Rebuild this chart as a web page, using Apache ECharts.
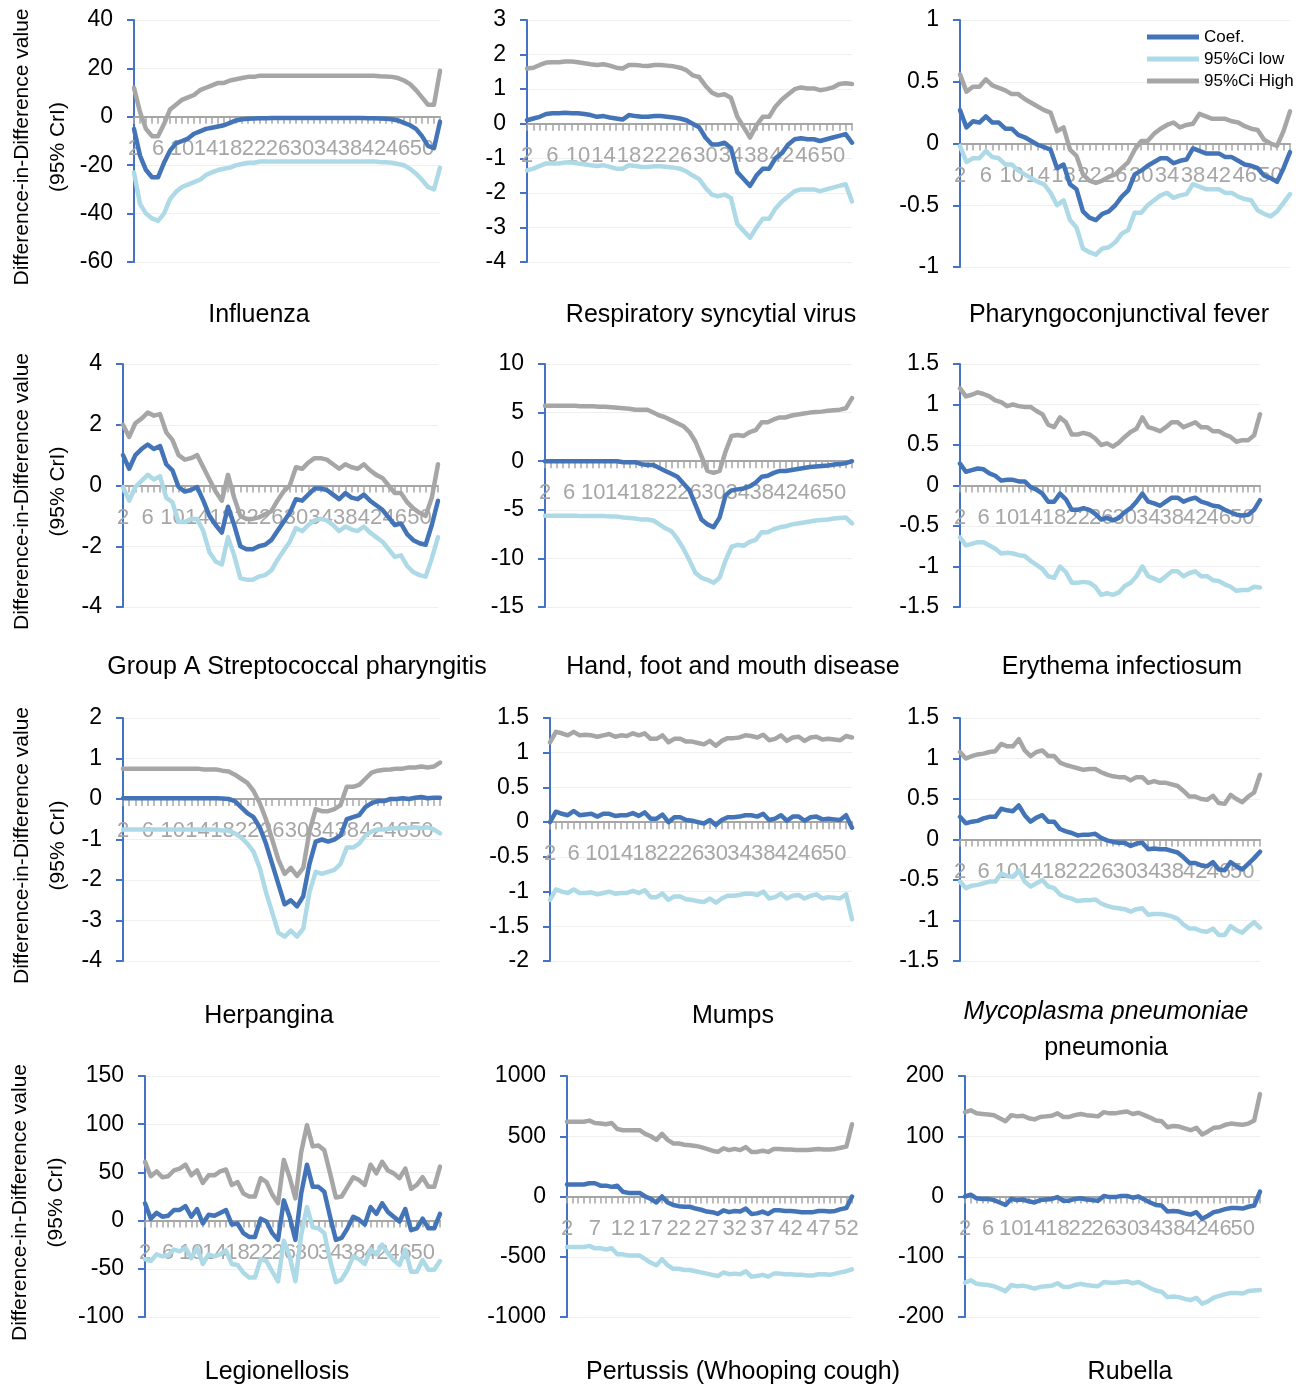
<!DOCTYPE html>
<html>
<head>
<meta charset="utf-8">
<script src="https://cdn.jsdelivr.net/npm/echarts@6/dist/echarts.min.js"></script>
<style>
html, body { margin: 0; padding: 0; background: #fff; }
#main { width: 1314px; height: 1387px; }
</style>
</head>
<body>
<div id="main"></div>
<script>
// week numbers on the x axis
const weeks = ['2','3','4','5','6','7','8','9','10','11','12','13','14','15','16','17','18','19','20','21',
  '22','23','24','25','26','27','28','29','30','31','32','33','34','35','36','37','38','39','40','41',
  '42','43','44','45','46','47','48','49','50','51','52','53'];

const seriesNames = ['Coef.', '95%Ci low', '95%Ci High'];

// Influenza
const fluCoef = [-5,-16,-22,-25,-25,-19,-14,-11,-10,-9, -7,-6,-5,-4.5,-4,-3.5,-2.5,-1.5,-1,-0.8,
  -0.7,-0.6,-0.6,-0.5,-0.5,-0.5,-0.5,-0.5,-0.5,-0.5, -0.5,-0.5,-0.5,-0.5,-0.5,-0.5,-0.5,-0.5,-0.5,-0.6,
  -0.6,-0.7,-0.8,-1,-1.5,-2.5,-3.5,-5,-8,-12, -13,-2];
const fluLow = [-23,-36,-40,-42,-43,-40,-34,-31,-29,-28, -27,-26,-24,-23,-22,-21.5,-21,-20,-19.5,-19,
  -19,-18.5,-18.5,-18.5,-18.5,-18.5,-18.5,-18.5,-18.5,-18.5, -18.5,-18.5,-18.5,-18.5,-18.5,-18.5,-18.5,-18.5,-18.5,-18.5,
  -18.5,-18.7,-18.8,-19,-19.5,-20,-21.5,-23.5,-26,-29, -30,-21];
const fluHigh = [12,2,-5,-8,-8,-3,3,5,7,8, 9,11,12,13,14,14,15,15.5,16,16.5,
  16.5,17,17,17,17,17,17,17,17,17, 17,17,17,17,17,17,17,17,17,17,
  17,16.8,16.7,16.5,16,15,13.5,11,8,5, 5,19];

// Respiratory syncytial virus
const rsvCoef = [0.1,0.15,0.2,0.28,0.3,0.3,0.32,0.3,0.3,0.28, 0.25,0.2,0.22,0.18,0.15,0.12,0.25,0.22,0.2,0.2,
  0.22,0.22,0.2,0.18,0.15,0.1,0,-0.1,-0.4,-0.6, -0.6,-0.55,-0.7,-1.4,-1.6,-1.8,-1.5,-1.3,-1.3,-1,
  -0.85,-0.6,-0.45,-0.42,-0.45,-0.45,-0.5,-0.45,-0.4,-0.35, -0.3,-0.55];
const rsvLow = [-1.35,-1.3,-1.22,-1.15,-1.15,-1.15,-1.12,-1.12,-1.15,-1.17, -1.2,-1.22,-1.2,-1.25,-1.3,-1.3,-1.2,-1.22,-1.25,-1.25,
  -1.23,-1.23,-1.25,-1.27,-1.3,-1.38,-1.5,-1.6,-1.85,-2.05, -2.1,-2.05,-2.15,-2.9,-3.1,-3.3,-3,-2.75,-2.75,-2.45,
  -2.25,-2.1,-1.95,-1.9,-1.9,-1.9,-1.95,-1.9,-1.85,-1.8, -1.75,-2.25];
const rsvHigh = [1.6,1.62,1.7,1.77,1.78,1.78,1.8,1.8,1.78,1.75, 1.72,1.7,1.72,1.68,1.62,1.6,1.7,1.7,1.68,1.67,
  1.7,1.7,1.68,1.66,1.62,1.55,1.4,1.35,1.1,0.9, 0.82,0.85,0.75,0.2,-0.1,-0.4,-0.05,0.2,0.2,0.5,
  0.7,0.85,1,1.05,1.02,1.02,0.97,1,1.05,1.15, 1.17,1.15];

// Pharyngoconjunctival fever
const pcfCoef = [0.27,0.13,0.18,0.17,0.22,0.17,0.17,0.12,0.12,0.07, 0.05,0.02,-0.01,-0.03,-0.05,-0.2,-0.17,-0.33,-0.37,-0.55,
  -0.6,-0.62,-0.57,-0.55,-0.5,-0.43,-0.38,-0.25,-0.22,-0.18, -0.15,-0.12,-0.12,-0.16,-0.14,-0.13,-0.04,-0.06,-0.08,-0.08,
  -0.08,-0.11,-0.11,-0.14,-0.17,-0.18,-0.2,-0.26,-0.28,-0.31, -0.2,-0.07];
const pcfLow = [-0.02,-0.15,-0.12,-0.12,-0.06,-0.11,-0.12,-0.17,-0.17,-0.22, -0.25,-0.28,-0.31,-0.33,-0.4,-0.5,-0.46,-0.62,-0.68,-0.85,
  -0.88,-0.9,-0.85,-0.84,-0.8,-0.73,-0.7,-0.56,-0.56,-0.5, -0.46,-0.42,-0.4,-0.44,-0.42,-0.41,-0.33,-0.35,-0.37,-0.37,
  -0.37,-0.4,-0.4,-0.43,-0.45,-0.46,-0.54,-0.57,-0.59,-0.55, -0.48,-0.41];
const pcfHigh = [0.56,0.42,0.46,0.46,0.52,0.47,0.45,0.43,0.4,0.4, 0.36,0.33,0.3,0.27,0.25,0.1,0.13,-0.05,-0.1,-0.25,
  -0.3,-0.32,-0.3,-0.27,-0.25,-0.2,-0.15,-0.05,0.02,0.02, 0.08,0.12,0.15,0.17,0.13,0.15,0.16,0.24,0.22,0.2,
  0.2,0.2,0.18,0.17,0.14,0.12,0.11,0.03,0,-0.02, 0.1,0.26];

// Group A Streptococcal pharyngitis
const gasCoef = [1,0.55,1,1.2,1.35,1.2,1.3,0.7,0.5,-0.05, -0.2,-0.15,-0.05,-0.5,-1,-1.3,-1.55,-0.7,-1.3,-2,
  -2.1,-2.1,-2,-1.95,-1.8,-1.5,-1.2,-0.9,-0.45,-0.5, -0.3,-0.1,-0.1,-0.15,-0.3,-0.45,-0.25,-0.4,-0.45,-0.3,
  -0.5,-0.65,-0.8,-1.05,-1.3,-1.25,-1.6,-1.8,-1.9,-1.95, -1.3,-0.5];
const gasLow = [-0.05,-0.5,-0.05,0.15,0.35,0.2,0.3,-0.4,-0.55,-1.2, -1.2,-1.1,-1.1,-1.5,-2.2,-2.5,-2.6,-1.7,-2.3,-3.05,
  -3.1,-3.1,-3,-2.95,-2.8,-2.45,-2.15,-1.85,-1.4,-1.5, -1.3,-1.15,-1.1,-1.15,-1.3,-1.5,-1.35,-1.45,-1.5,-1.35,
  -1.55,-1.7,-1.85,-2.1,-2.35,-2.3,-2.65,-2.85,-2.95,-3, -2.4,-1.7];
const gasHigh = [2,1.6,2.05,2.2,2.4,2.3,2.35,1.75,1.5,1, 0.85,0.9,1,0.6,0.2,-0.2,-0.5,0.35,-0.4,-1,
  -1.1,-1.1,-1.05,-0.95,-0.85,-0.5,-0.2,0,0.6,0.55, 0.75,0.9,0.9,0.85,0.7,0.55,0.7,0.6,0.55,0.7,
  0.5,0.35,0.25,0,-0.25,-0.25,-0.55,-0.75,-0.9,-1, -0.4,0.7];

// Hand, foot and mouth disease
const hfmdCoef = [0,0,0,0,0,0,0,0,0,0, 0,0,0,-0.1,-0.1,-0.1,-0.3,-0.4,-0.4,-0.7,
  -1,-1.3,-1.6,-2.3,-3,-4.5,-6,-6.5,-6.8,-5.8, -3.5,-3,-2.9,-2.8,-2.6,-2.2,-1.6,-1.5,-1.2,-1,
  -1,-0.9,-0.8,-0.7,-0.6,-0.55,-0.5,-0.45,-0.35,-0.3, -0.2,0];
const hfmdLow = [-5.6,-5.6,-5.6,-5.6,-5.6,-5.6,-5.65,-5.65,-5.65,-5.65, -5.65,-5.7,-5.7,-5.8,-5.85,-5.9,-6,-6,-6.1,-6.5,
  -6.9,-7.2,-8,-9,-10.2,-11.5,-12,-12.2,-12.5,-12, -10.2,-8.8,-8.6,-8.7,-8.3,-8.1,-7.3,-7.3,-7,-6.8,
  -6.7,-6.5,-6.4,-6.3,-6.2,-6.1,-6.05,-6,-5.9,-5.85, -5.8,-6.4];
const hfmdHigh = [5.7,5.7,5.7,5.7,5.7,5.7,5.65,5.65,5.65,5.6, 5.6,5.55,5.5,5.45,5.4,5.3,5.3,5.3,5,4.7,
  4.5,4.2,3.9,3.6,3,2,0.5,-1,-1.2,-1, 1,2.6,2.7,2.6,3,3.2,4,4,4.3,4.5,
  4.5,4.7,4.8,4.9,5,5.05,5.1,5.2,5.25,5.3, 5.45,6.5];

// Erythema infectiosum
const eryCoef = [0.27,0.17,0.19,0.21,0.2,0.15,0.12,0.06,0.07,0.07, 0.05,0.05,-0.02,-0.05,-0.1,-0.2,-0.2,-0.1,-0.17,-0.3,
  -0.3,-0.28,-0.3,-0.35,-0.42,-0.4,-0.43,-0.4,-0.33,-0.28, -0.2,-0.1,-0.2,-0.22,-0.25,-0.2,-0.15,-0.15,-0.2,-0.17,
  -0.15,-0.2,-0.22,-0.25,-0.26,-0.3,-0.33,-0.36,-0.37,-0.36, -0.3,-0.18];
const eryLow = [-0.64,-0.74,-0.72,-0.7,-0.7,-0.74,-0.78,-0.84,-0.83,-0.84, -0.86,-0.87,-0.93,-0.98,-1.03,-1.12,-1.14,-1,-1.07,-1.2,
  -1.2,-1.19,-1.2,-1.25,-1.35,-1.33,-1.35,-1.32,-1.24,-1.2, -1.12,-1,-1.12,-1.15,-1.18,-1.12,-1.06,-1.06,-1.12,-1.08,
  -1.06,-1.12,-1.12,-1.17,-1.18,-1.22,-1.25,-1.3,-1.29,-1.29, -1.25,-1.26];
const eryHigh = [1.2,1.1,1.12,1.15,1.13,1.1,1.05,1.03,0.98,1, 0.98,0.97,0.97,0.92,0.88,0.75,0.72,0.84,0.78,0.63,
  0.63,0.65,0.63,0.58,0.5,0.52,0.48,0.53,0.6,0.66, 0.7,0.84,0.72,0.7,0.67,0.72,0.78,0.78,0.72,0.75,
  0.78,0.72,0.72,0.67,0.67,0.63,0.6,0.54,0.56,0.56, 0.62,0.88];

// Herpangina
const herpCoef = [0.02,0.02,0.02,0.02,0.02,0.02,0.02,0.02,0.02,0.02, 0.02,0.02,0.02,0.02,0.02,0.02,0.01,0,-0.05,-0.2,
  -0.35,-0.45,-0.7,-1.1,-1.6,-2.1,-2.6,-2.5,-2.65,-2.4, -1.6,-1.05,-1,-1.05,-1,-0.9,-0.5,-0.45,-0.4,-0.2,
  -0.1,-0.05,-0.05,0,0,0.02,0,0.03,0.05,0.02, 0.03,0.03];
const herpLow = [-0.75,-0.75,-0.75,-0.75,-0.75,-0.75,-0.75,-0.75,-0.75,-0.75, -0.75,-0.75,-0.75,-0.75,-0.75,-0.76,-0.78,-0.78,-0.85,-0.95,
  -1.1,-1.3,-1.7,-2.3,-2.8,-3.3,-3.4,-3.25,-3.4,-3.2, -2.3,-1.8,-1.85,-1.8,-1.75,-1.6,-1.2,-1.2,-1.1,-0.9,
  -0.8,-0.75,-0.75,-0.73,-0.72,-0.72,-0.71,-0.7,-0.72,-0.7, -0.75,-0.85];
const herpHigh = [0.75,0.75,0.75,0.75,0.75,0.75,0.75,0.75,0.75,0.75, 0.75,0.75,0.75,0.73,0.73,0.73,0.7,0.68,0.6,0.5,
  0.4,0.2,-0.1,-0.5,-1,-1.5,-1.85,-1.7,-1.9,-1.7, -0.8,-0.25,-0.3,-0.3,-0.25,-0.15,0.3,0.3,0.35,0.5,
  0.65,0.7,0.72,0.73,0.75,0.75,0.78,0.78,0.8,0.78, 0.8,0.9];

// Mumps
const mumpsCoef = [0,0.15,0.12,0.1,0.16,0.1,0.11,0.12,0.08,0.12, 0.12,0.09,0.1,0.1,0.13,0.09,0.14,0.05,0.05,0.11,
  0,0.07,0.07,0.03,0.02,0,-0.02,0.03,-0.04,0.03, 0.07,0.07,0.08,0.1,0.1,0.08,0.12,0.03,0.05,0.1,
  0.02,0.08,0.08,0.02,0.07,0.08,0.04,0.05,0.04,0.03, 0.1,-0.08];
const mumpsLow = [-1.12,-0.97,-1,-1.02,-0.97,-1.02,-1.02,-1.01,-1.04,-1.02, -1,-1.03,-1.02,-1.02,-0.99,-1.02,-0.98,-1.08,-1.08,-1.03,
  -1.12,-1.07,-1.07,-1.11,-1.12,-1.14,-1.15,-1.1,-1.16,-1.1, -1.06,-1.06,-1.05,-1.03,-1.03,-1.05,-1,-1.1,-1.08,-1.03,
  -1.1,-1.06,-1.05,-1.1,-1.06,-1.04,-1.1,-1.08,-1.09,-1.1, -1.04,-1.4];
const mumpsHigh = [1.15,1.3,1.28,1.25,1.3,1.25,1.26,1.25,1.23,1.25, 1.27,1.23,1.25,1.24,1.28,1.25,1.28,1.2,1.2,1.25,
  1.15,1.2,1.2,1.16,1.16,1.14,1.12,1.17,1.1,1.17, 1.21,1.21,1.22,1.25,1.24,1.22,1.26,1.18,1.2,1.25,
  1.17,1.22,1.23,1.17,1.22,1.23,1.19,1.2,1.19,1.18, 1.24,1.22];

// Mycoplasma pneumoniae pneumonia
const mycoCoef = [0.28,0.2,0.22,0.23,0.26,0.28,0.28,0.38,0.36,0.35, 0.42,0.3,0.22,0.27,0.3,0.22,0.22,0.13,0.1,0.08,
  0.05,0.06,0.06,0.07,0.02,-0.01,-0.03,-0.04,-0.04,-0.08, -0.05,-0.04,-0.12,-0.11,-0.12,-0.12,-0.14,-0.16,-0.22,-0.29,
  -0.29,-0.32,-0.33,-0.28,-0.37,-0.38,-0.28,-0.33,-0.37,-0.3, -0.23,-0.15];
const mycoLow = [-0.52,-0.6,-0.57,-0.56,-0.54,-0.52,-0.52,-0.42,-0.45,-0.46, -0.38,-0.52,-0.58,-0.54,-0.5,-0.58,-0.6,-0.68,-0.71,-0.73,
  -0.76,-0.75,-0.75,-0.74,-0.79,-0.82,-0.84,-0.85,-0.86,-0.89, -0.86,-0.85,-0.93,-0.92,-0.92,-0.93,-0.95,-0.98,-1.05,-1.1,
  -1.1,-1.13,-1.14,-1.1,-1.18,-1.18,-1.07,-1.12,-1.15,-1.08, -1.02,-1.09];
const mycoHigh = [1.08,1,1.03,1.05,1.06,1.08,1.09,1.18,1.15,1.15, 1.24,1.1,1.03,1.08,1.1,1.03,1.03,0.95,0.92,0.9,
  0.88,0.86,0.87,0.87,0.83,0.8,0.78,0.77,0.77,0.73, 0.77,0.77,0.7,0.72,0.7,0.7,0.68,0.66,0.6,0.53,
  0.53,0.5,0.49,0.54,0.45,0.44,0.55,0.5,0.46,0.53, 0.58,0.8];

// Legionellosis
const legCoef = [18,2,8,4,5,11,11,15,4,12, -3,6,5,8,11,-4,-3,-13,-17,-17,
  2,-1,-13,-20,21,4,-20,28,58,35, 35,30,4,-20,-18,-8,4,1,-4,14,
  7,18,9,4,-1,12,-10,-8,2,-8, -8,7];
const legLow = [-40,-42,-35,-37,-36,-30,-32,-28,-39,-28, -45,-35,-37,-35,-31,-45,-46,-54,-59,-59,
  -40,-42,-53,-63,-21,-37,-63,-15,14,-7, -8,-13,-41,-64,-61,-51,-37,-40,-45,-30,
  -35,-25,-34,-41,-46,-30,-53,-53,-41,-51, -51,-42];
const legHigh = [61,46,51,45,46,52,54,58,47,52, 39,47,47,51,53,37,40,28,25,25,
  44,40,27,18,63,45,23,71,99,77, 78,73,49,24,25,35,45,42,37,58,
  49,61,52,49,44,54,33,37,45,35, 35,56];

// Pertussis (Whooping cough)
const pertCoef = [100,100,100,100,110,110,90,90,80,90, 40,30,30,30,0,-20,-50,0,-50,-70,
  -80,-85,-85,-100,-110,-125,-130,-145,-115,-130, -120,-125,-100,-145,-140,-125,-145,-115,-115,-120,
  -120,-125,-130,-130,-130,-120,-120,-125,-120,-105, -95,0];
const pertLow = [-420,-420,-420,-420,-410,-430,-430,-440,-430,-480, -480,-490,-490,-490,-520,-550,-570,-520,-570,-600,
  -600,-610,-610,-620,-630,-640,-650,-660,-630,-645, -640,-645,-620,-665,-660,-650,-665,-640,-640,-645,
  -645,-650,-650,-655,-655,-645,-645,-650,-640,-630, -620,-605];
const pertHigh = [620,620,620,620,630,610,605,600,610,560, 550,550,550,550,520,500,470,520,470,440,
  440,430,425,420,410,395,380,370,400,385, 395,385,410,370,370,380,370,395,395,390,
  390,385,385,385,390,395,390,390,395,405, 415,600];

// Rubella
const rubCoef = [0,3,-3,-4,-4,-6,-10,-14,-4,-6, -5,-8,-10,-6,-5,-4,-1,-7,-7,-4,
  -3,-5,-6,-7,1,-1,-1,1,1,-2, 0,-5,-10,-14,-15,-25,-24,-25,-28,-30,
  -26,-37,-32,-26,-24,-21,-19,-19,-20,-17, -15,8];
const rubLow = [-143,-139,-145,-146,-147,-149,-153,-157,-147,-149, -148,-150,-153,-150,-149,-148,-144,-150,-150,-147,
  -145,-147,-148,-149,-142,-143,-143,-142,-141,-144, -142,-147,-152,-156,-158,-167,-166,-167,-170,-172,
  -168,-178,-174,-168,-165,-162,-160,-160,-161,-157, -156,-155];
const rubHigh = [140,143,138,137,136,135,130,125,135,133, 134,130,128,132,133,134,138,132,132,135,
  137,135,134,133,140,138,138,140,141,137, 139,135,131,126,125,115,117,116,113,110,
  114,103,108,114,115,119,121,120,119,121, 126,170];

const FONT = "'Liberation Sans Narrow', 'Arial Narrow', 'Liberation Sans', sans-serif";
const COLORS = ['#4374B7', '#ADDAE6', '#A6A6A6'];
const YNAME = 'Difference-in-Difference value\n(95% CrI)';

// layout of the 12 small charts
const panels = [
  { title: 'Influenza', data: [fluCoef, fluLow, fluHigh], min: -60, max: 40, step: 20, box: [134, 20, 306, 242], tx: 259, ty: 297, every: 4, gap: 58 },
  { title: 'Respiratory syncytial virus', data: [rsvCoef, rsvLow, rsvHigh], min: -4, max: 3, step: 1, box: [527, 20, 325, 242], tx: 711, ty: 297, every: 4 },
  { title: 'Pharyngoconjunctival fever', data: [pcfCoef, pcfLow, pcfHigh], min: -1, max: 1, step: 0.5, box: [960, 20, 330, 247], tx: 1119, ty: 297, every: 4 },
  { title: 'Group A Streptococcal pharyngitis', data: [gasCoef, gasLow, gasHigh], min: -4, max: 4, step: 2, box: [123, 364, 315, 243], tx: 297, ty: 649, every: 4, gap: 47 },
  { title: 'Hand, foot and mouth disease', data: [hfmdCoef, hfmdLow, hfmdHigh], min: -15, max: 10, step: 5, box: [545, 364, 307, 243], tx: 733, ty: 649, every: 4 },
  { title: 'Erythema infectiosum', data: [eryCoef, eryLow, eryHigh], min: -1.5, max: 1.5, step: 0.5, box: [960, 364, 300, 243], tx: 1122, ty: 649, every: 4 },
  { title: 'Herpangina', data: [herpCoef, herpLow, herpHigh], min: -4, max: 2, step: 1, box: [123, 718, 317, 243], tx: 269, ty: 998, every: 4, gap: 47 },
  { title: 'Mumps', data: [mumpsCoef, mumpsLow, mumpsHigh], min: -2, max: 1.5, step: 0.5, box: [550, 718, 302, 243], tx: 733, ty: 998, every: 4 },
  { title: '{i|Mycoplasma pneumoniae}\n{n|pneumonia}', data: [mycoCoef, mycoLow, mycoHigh], min: -1.5, max: 1.5, step: 0.5, box: [960, 718, 300, 243], tx: 1106, ty: 994, every: 4 },
  { title: 'Legionellosis', data: [legCoef, legLow, legHigh], min: -100, max: 150, step: 50, box: [145, 1076, 295, 241], tx: 277, ty: 1354, every: 4, gap: 69 },
  { title: 'Pertussis (Whooping cough)', data: [pertCoef, pertLow, pertHigh], min: -1000, max: 1000, step: 500, box: [567, 1076, 285, 241], tx: 743, ty: 1354, every: 5 },
  { title: 'Rubella', data: [rubCoef, rubLow, rubHigh], min: -200, max: 200, step: 100, box: [965, 1076, 295, 241], tx: 1130, ty: 1354, every: 4 }
];

const chart = echarts.init(document.getElementById('main'));

const series = [];
panels.forEach((p, i) => {
  p.data.forEach((vals, k) => {
    series.push({
      name: seriesNames[k],
      type: 'line',
      xAxisIndex: i,
      yAxisIndex: i,
      data: vals,
      symbol: 'none',
      color: COLORS[k],
      lineStyle: { color: COLORS[k], width: 4.5, cap: 'round', join: 'round' }
    });
  });
});

const option = {
  animation: false,
  backgroundColor: '#fff',
  textStyle: { fontFamily: FONT },
  title: panels.map(p => ({
    text: p.title,
    left: p.tx,
    top: p.ty,
    textAlign: 'center',
    padding: 0,
    textStyle: {
      fontFamily: FONT, fontSize: 25, fontWeight: 'normal', color: '#000', lineHeight: 36,
      rich: {
        i: { fontFamily: FONT, fontSize: 25, fontStyle: 'italic', color: '#000', lineHeight: 36 },
        n: { fontFamily: FONT, fontSize: 25, color: '#000', lineHeight: 36 }
      }
    }
  })),
  legend: {
    data: seriesNames,
    orient: 'vertical',
    left: 1147,
    top: 26,
    icon: 'rect',
    itemWidth: 52,
    itemHeight: 5,
    itemGap: 0,
    padding: 0,
    selectedMode: false,
    textStyle: { fontFamily: "'Liberation Sans', sans-serif", fontSize: 17, lineHeight: 22, color: '#000' }
  },
  grid: panels.map(p => ({
    left: p.box[0], top: p.box[1], width: p.box[2], height: p.box[3],
    outerBoundsMode: 'none'
  })),
  xAxis: panels.map((p, i) => {
    // the labels sit just under the zero line, not under the plot
    const zeroY = p.box[1] + p.box[3] * p.max / (p.max - p.min);
    const bottom = p.box[1] + p.box[3];
    return {
      gridIndex: i,
      type: 'category',
      data: weeks,
      boundaryGap: false,
      axisLine: { onZero: true, lineStyle: { color: '#A6A6A6', width: 2 } },
      axisTick: { show: true, interval: 0, length: 7, lineStyle: { color: '#A6A6A6', width: 1.5 } },
      axisLabel: {
        interval: 0,
        color: '#A6A6A6',
        fontSize: 22,
        margin: Math.round(zeroY + 21 - bottom),
        fontFamily: FONT,
        formatter: (v, idx) => (idx % p.every === 0 ? v : '')
      },
      splitLine: { show: false }
    };
  }),
  yAxis: panels.map((p, i) => ({
    gridIndex: i,
    type: 'value',
    min: p.min,
    max: p.max,
    interval: p.step,
    name: p.gap ? YNAME : '',
    nameLocation: 'middle',
    nameRotate: 90,
    nameGap: p.gap || 0,
    nameTextStyle: { fontFamily: FONT, fontSize: 21, lineHeight: 36, color: '#000', padding: [0, 12, 0, 0] },
    axisLine: { show: true, lineStyle: { color: '#4472C4', width: 2 } },
    axisTick: { show: true, length: 7, lineStyle: { color: '#4472C4', width: 2 } },
    axisLabel: { color: '#000', fontSize: 23, margin: 21, fontFamily: FONT, formatter: v => String(v) },
    splitLine: { show: true, lineStyle: { color: '#EFEFEF', width: 1 } }
  })),
  series: series
};

chart.setOption(option);
</script>
</body>
</html>
